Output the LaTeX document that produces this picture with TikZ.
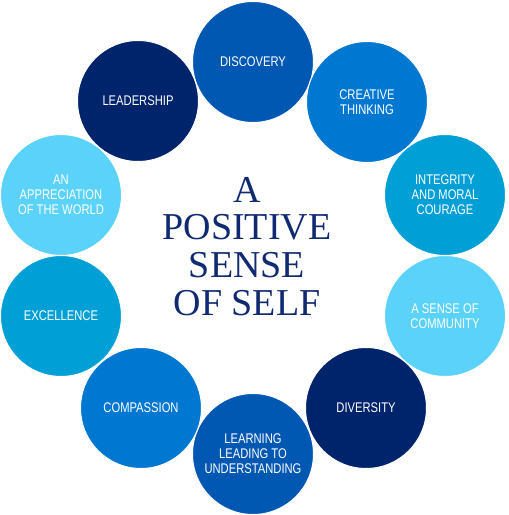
\documentclass[tikz,border=0pt]{standalone}
\usepackage{fontspec}
\newfontfamily\labelfont[FakeStretch=0.8]{Liberation Sans}
\newfontfamily\titlefont{Liberation Serif}
\definecolor{navyblue}{HTML}{00246B}
\definecolor{deepblue}{HTML}{0058B3}
\definecolor{midblue}{HTML}{0078D1}
\definecolor{cyanblue}{HTML}{00A0D7}
\definecolor{skyblue}{HTML}{5BD2FA}
\definecolor{titleblue}{HTML}{102A72}
\tikzset{
  bubble/.style={circle, draw=white, line width=1pt, minimum size=121pt, inner sep=0pt,
    text=white, align=center, font=\labelfont\fontsize{14}{15}\selectfont},
}
\begin{document}
\begin{tikzpicture}[x=1pt, y=-1pt]
  \useasboundingbox (0,0) rectangle (509,515);
  % ring of values
  \node[bubble, fill=deepblue] (discovery) at (253,62) {DISCOVERY};
  \node[bubble, fill=midblue] (creative) at (367,102) {CREATIVE\\THINKING};
  \node[bubble, fill=cyanblue] (integrity) at (445,195) {INTEGRITY\\AND MORAL\\COURAGE};
  \node[bubble, fill=skyblue] (community) at (445,316) {A SENSE OF\\COMMUNITY};
  \node[bubble, fill=navyblue] (diversity) at (366,408) {DIVERSITY};
  \node[bubble, fill=deepblue] (learning) at (253,454) {LEARNING\\LEADING TO\\UNDERSTANDING};
  \node[bubble, fill=midblue] (compassion) at (141,408) {COMPASSION};
  \node[bubble, fill=cyanblue] (excellence) at (61,316) {EXCELLENCE};
  \node[bubble, fill=skyblue] (appreciation) at (61,195) {AN\\APPRECIATION\\OF THE WORLD};
  \node[bubble, fill=navyblue] (leadership) at (138,101) {LEADERSHIP};
  % centre title
  \node[anchor=north, inner sep=0pt, align=center, text=titleblue,
    font=\titlefont\fontsize{38}{37.7}\selectfont] (title) at (247,177)
    {A\\POSITIVE\\SENSE\\OF SELF};
\end{tikzpicture}
\end{document}
